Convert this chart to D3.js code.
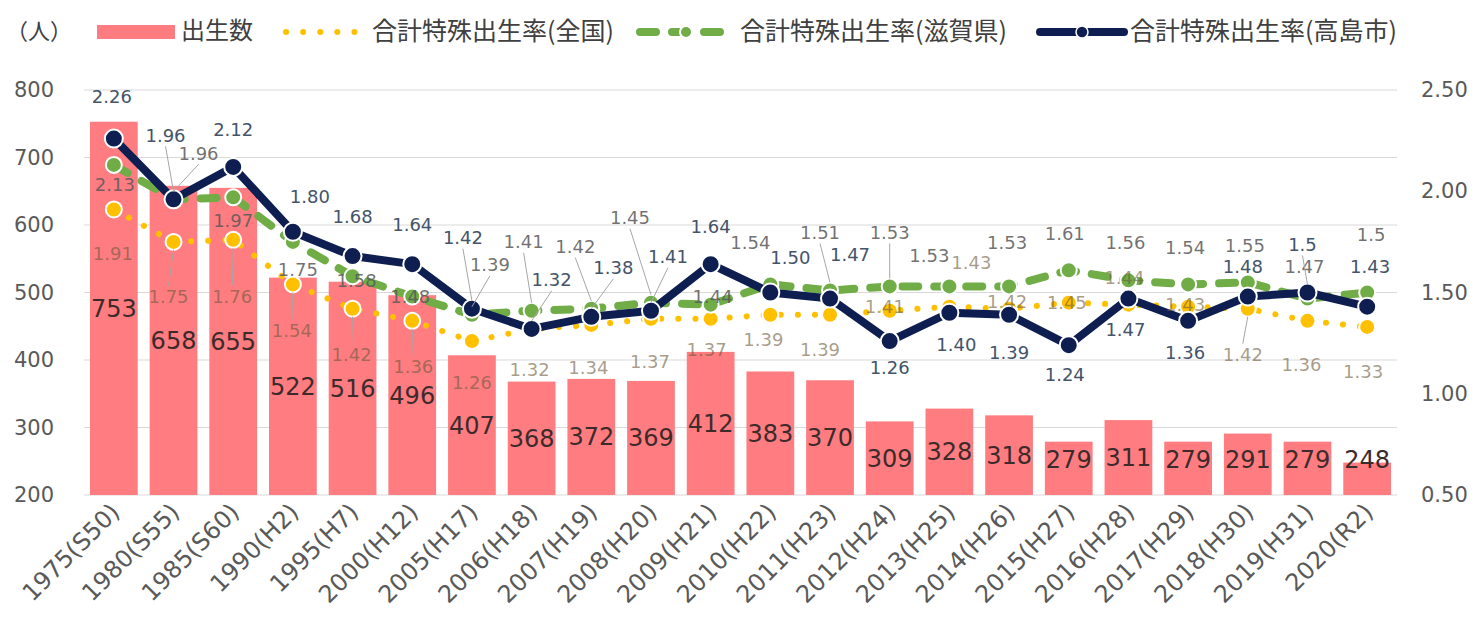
<!DOCTYPE html>
<html>
<head>
<meta charset="utf-8">
<script src="https://cdn.jsdelivr.net/npm/d3@7"></script>
<style>
  body { margin: 0; background: #fff; }
  text { font-family: "DejaVu Sans", sans-serif; }
  .jp { font-family: "Noto Sans CJK JP", sans-serif; }
</style>
</head>
<body>
<svg id="chart" width="1479" height="630"></svg>
<script>
// ---- data ----
const categories = ["1975(S50)", "1980(S55)", "1985(S60)", "1990(H2)", "1995(H7)", "2000(H12)", "2005(H17)",
  "2006(H18)", "2007(H19)", "2008(H20)", "2009(H21)", "2010(H22)", "2011(H23)", "2012(H24)", "2013(H25)",
  "2014(H26)", "2015(H27)", "2016(H28)", "2017(H29)", "2018(H30)", "2019(H31)", "2020(R2)"];
const births = [753, 658, 655, 522, 516, 496, 407, 368, 372, 369, 412, 383, 370, 309, 328, 318, 279, 311, 279, 291, 279, 248];
// rates kept as the strings printed on the chart
const rateNational = ["1.91", "1.75", "1.76", "1.54", "1.42", "1.36", "1.26", "1.32", "1.34", "1.37", "1.37",
  "1.39", "1.39", "1.41", "1.43", "1.42", "1.45", "1.44", "1.43", "1.42", "1.36", "1.33"];
const rateShiga = ["2.13", "1.96", "1.97", "1.75", "1.58", "1.48", "1.39", "1.41", "1.42", "1.45", "1.44",
  "1.54", "1.51", "1.53", "1.53", "1.53", "1.61", "1.56", "1.54", "1.55", "1.47", "1.5"];
const rateTakashima = ["2.26", "1.96", "2.12", "1.80", "1.68", "1.64", "1.42", "1.32", "1.38", "1.41", "1.64",
  "1.50", "1.47", "1.26", "1.40", "1.39", "1.24", "1.47", "1.36", "1.48", "1.5", "1.43"];
const leftTicks = [200, 300, 400, 500, 600, 700, 800];
const rightTicks = [0.5, 1.0, 1.5, 2.0, 2.5];

// data label nudges (layout only, px)
const navyDx = [-2, -8, 0, 17, 0, 0, -9, 20, 22, 17, 0, 20, 20, 0, 7, 0, -4, -3, -3, -5, -5, 3];
const navyDy = [-42, -64, -37, -35, -39, -39, -71, -49, -49, -54, -37, -35, -44, 27, 32, 38, 30, 31, 32, -30, -48, -40];
const shigaDx = [1, 25, 0, 5, 4, -2, 18, -8, -16, -21, 2, -20, -10, 0, -20, -2, -4, -3, -3, -3, -3, 4];
const shigaDy = [20, -46, 23, 28, 4, 0, -50, -69, -62, -85, -8, -42, -58, -54, -31, -44, -37, -38, -37, -37, -32, -58];
const natDx = [-1, -5, -1, -1, -1, 1, 0, -2, -3, -1, -4, -7, -10, -5, 22, -2, -2, -4, -3, -5, -6, -4];
const natDy = [44, 55, 57, 46, 46, 46, 42, 41, 43, 43, 31, 25, 35, -4, -44, -7, 0, -27, -2, 46, 44, 45];

const pink = "#FF7C80", yellow = "#FFC000", green = "#70AD47", navy = "#0E1E50";

const svg = d3.select("#chart");
const plotL = 84, plotR = 1397, plotT = 90, plotB = 495;

const x = d3.scaleBand().domain(categories).range([plotL, plotR]).paddingInner(0.2).paddingOuter(0.1);
const yL = d3.scaleLinear().domain([200, 800]).range([plotB, plotT]);
const yR = d3.scaleLinear().domain([0.5, 2.5]).range([plotB, plotT]);
const cx = d => x(d) + x.bandwidth() / 2;

// gridlines
svg.append("g").selectAll("line").data(leftTicks).enter().append("line")
  .attr("x1", plotL).attr("x2", plotR)
  .attr("y1", d => yL(d)).attr("y2", d => yL(d))
  .attr("stroke", "#d9d9d9").attr("stroke-width", 1);

// axes
const gl = svg.append("g").attr("transform", `translate(${plotL},0)`)
  .call(d3.axisLeft(yL).tickValues(leftTicks).tickSize(0).tickPadding(30));
gl.select(".domain").remove();
gl.selectAll("text").attr("font-size", 21).attr("fill", "#595959").style("font-family", "DejaVu Sans");

const gr = svg.append("g").attr("transform", `translate(${plotR},0)`)
  .call(d3.axisRight(yR).tickValues(rightTicks).tickSize(0).tickPadding(24).tickFormat(d3.format(".2f")));
gr.select(".domain").remove();
gr.selectAll("text").attr("font-size", 21).attr("fill", "#595959").style("font-family", "DejaVu Sans");

const gb = svg.append("g").attr("transform", `translate(0,${plotB})`)
  .call(d3.axisBottom(x).tickSize(0));
gb.select(".domain").remove();
gb.selectAll("text")
  .attr("font-size", 24).attr("fill", "#595959").style("font-family", "DejaVu Sans")
  .attr("text-anchor", "end")
  .attr("x", -8).attr("y", 10).attr("dy", "0.35em")
  .attr("transform", "rotate(-45)");

// bars
svg.append("g").selectAll("rect").data(births).enter().append("rect")
  .attr("x", (d, i) => x(categories[i]))
  .attr("y", d => yL(d))
  .attr("width", x.bandwidth())
  .attr("height", d => plotB - yL(d))
  .attr("fill", pink);

svg.append("g").selectAll("text").data(births).enter().append("text")
  .attr("x", (d, i) => cx(categories[i]))
  .attr("y", d => Math.min((yL(d) + plotB) / 2, 460))
  .attr("dy", "0.35em")
  .attr("text-anchor", "middle")
  .attr("font-size", 24)
  .attr("fill", "#3d2b2b")
  .text(d => d);

// lines
const line = d3.line().x((d, i) => cx(categories[i])).y(d => yR(+d));

function drawSeries(vals, color, width, dash, r) {
  const g = svg.append("g");
  g.append("path").datum(vals)
    .attr("d", line)
    .attr("fill", "none")
    .attr("stroke", color)
    .attr("stroke-width", width)
    .attr("stroke-linecap", "round")
    .attr("stroke-linejoin", "round")
    .attr("stroke-dasharray", dash);
  g.selectAll("circle").data(vals).enter().append("circle")
    .attr("cx", (d, i) => cx(categories[i]))
    .attr("cy", d => yR(+d))
    .attr("r", r)
    .attr("fill", color)
    .attr("stroke", "#fff")
    .attr("stroke-width", 2);
}
drawSeries(rateNational, yellow, 6, "0.1,17", 8);
drawSeries(rateShiga, green, 8, "16,16", 8);
drawSeries(rateTakashima, navy, 8, null, 9);

// data labels for rates
function drawLabels(vals, dx, dy, fill, opacity) {
  const g = svg.append("g");
  vals.forEach((v, i) => {
    const px = cx(categories[i]), py = yR(+v);
    const lx = px + dx[i], ly = py + dy[i];
    if (Math.abs(dy[i]) > 45 && !(i === 21 && vals === rateShiga)) {
      g.append("line")
        .attr("x1", lx).attr("y1", ly + (dy[i] < 0 ? 11 : -11))
        .attr("x2", px).attr("y2", py + (dy[i] < 0 ? -8 : 8))
        .attr("stroke", "#a6a6a6").attr("stroke-width", 1);
    }
    g.append("text")
      .attr("x", lx).attr("y", ly)
      .attr("dy", "0.35em")
      .attr("text-anchor", "middle")
      .attr("font-size", 18)
      .attr("fill", fill)
      .attr("fill-opacity", opacity)
      .text(v);
  });
}
drawLabels(rateNational, natDx, natDy, "#6b5a3a", 0.6);
drawLabels(rateShiga, shigaDx, shigaDy, "#595959", 0.85);
drawLabels(rateTakashima, navyDx, navyDy, "#44546A", 1);

// legend
const lg = svg.append("g");
const legY = 31;
lg.append("text").attr("class", "jp").attr("x", 6).attr("y", legY).attr("dy", "0.35em")
  .attr("font-size", 22).attr("fill", "#404040").text("（人）");
lg.append("rect").attr("x", 97).attr("y", 25).attr("width", 78).attr("height", 14).attr("fill", pink);
lg.append("text").attr("class", "jp").attr("x", 181).attr("y", legY).attr("dy", "0.35em")
  .attr("font-size", 24).attr("fill", "#404040").text("出生数");

lg.append("line").attr("x1", 286).attr("x2", 360).attr("y1", legY + 1).attr("y2", legY + 1)
  .attr("stroke", yellow).attr("stroke-width", 6).attr("stroke-linecap", "round").attr("stroke-dasharray", "0.1,17");
lg.append("text").attr("class", "jp").attr("x", 372).attr("y", legY).attr("dy", "0.35em")
  .attr("font-size", 25).attr("fill", "#404040").text("合計特殊出生率(全国)");

lg.append("line").attr("x1", 640).attr("x2", 728).attr("y1", legY + 1).attr("y2", legY + 1)
  .attr("stroke", green).attr("stroke-width", 8).attr("stroke-linecap", "round").attr("stroke-dasharray", "16,16");
lg.append("circle").attr("cx", 686).attr("cy", legY + 1).attr("r", 6).attr("fill", green).attr("stroke", "#fff").attr("stroke-width", 2);
lg.append("text").attr("class", "jp").attr("x", 740).attr("y", legY).attr("dy", "0.35em")
  .attr("font-size", 25).attr("fill", "#404040").text("合計特殊出生率(滋賀県)");

lg.append("line").attr("x1", 1040).attr("x2", 1124).attr("y1", legY + 1).attr("y2", legY + 1)
  .attr("stroke", navy).attr("stroke-width", 8).attr("stroke-linecap", "round");
lg.append("circle").attr("cx", 1082).attr("cy", legY + 1).attr("r", 6).attr("fill", navy).attr("stroke", "#fff").attr("stroke-width", 1.5);
lg.append("text").attr("class", "jp").attr("x", 1130).attr("y", legY).attr("dy", "0.35em")
  .attr("font-size", 25).attr("fill", "#404040").text("合計特殊出生率(高島市)");
</script>
</body>
</html>
